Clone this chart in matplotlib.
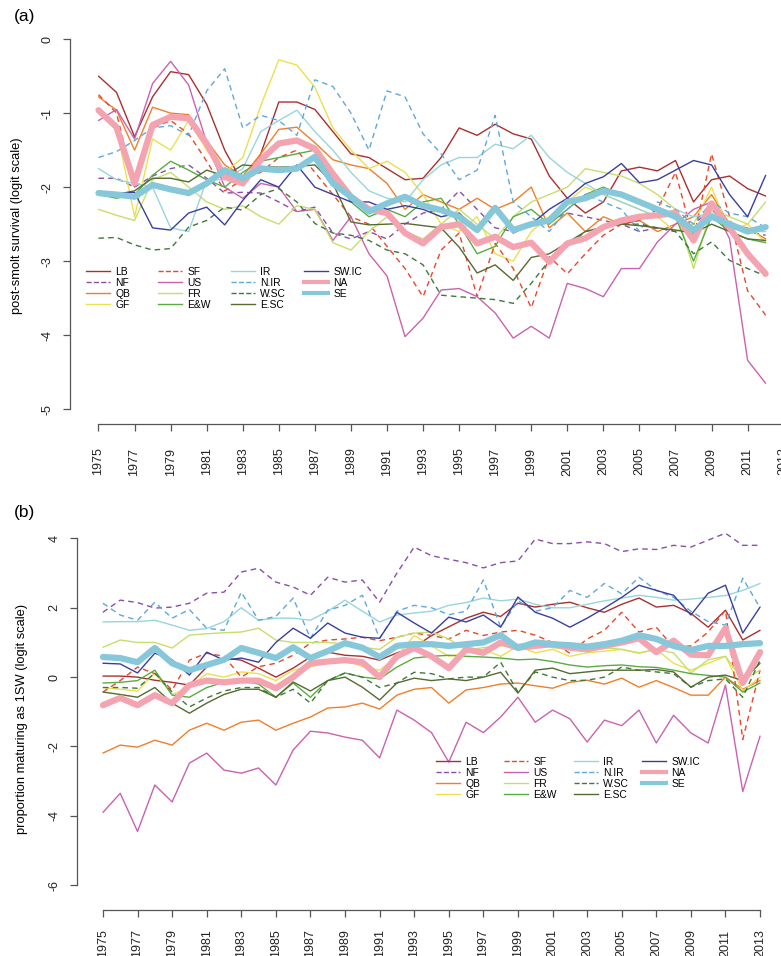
import matplotlib
matplotlib.use("Agg")
import matplotlib.pyplot as plt

plt.rcParams['font.family'] = ['Liberation Sans', 'DejaVu Sans']

W, H = 781, 956

# ---- data: panel (a) post-smolt survival, 1975-2012 ----
years_a = list(range(1975, 2013))
lb_a = [-0.5, -0.72, -1.32, -0.78, -0.44, -0.48, -0.88, -1.5, -1.95, -1.55,
        -0.85, -0.85, -0.95, -1.25, -1.55, -1.6, -1.75, -1.9, -1.88, -1.6,
        -1.2, -1.3, -1.15, -1.28, -1.35, -1.85, -2.15, -2.35, -2.2, -1.78,
        -1.73, -1.78, -1.64, -2.2, -1.9, -1.85, -2.02, -2.12]
nf_a = [-1.88, -1.88, -2.0, -1.85, -1.75, -1.7, -1.88, -2.08, -2.07, -2.08,
        -2.2, -2.33, -2.27, -2.62, -2.7, -2.6, -2.7, -2.5, -2.35, -2.3,
        -2.05, -2.3, -2.55, -2.6, -2.5, -2.45, -2.35, -2.4, -2.45, -2.5,
        -2.6, -2.55, -2.6, -2.5, -2.3, -2.55, -2.6, -2.65]
qb_a = [-0.78, -0.96, -1.5, -0.92, -1.0, -1.02, -1.37, -1.7, -1.85, -1.55,
        -1.22, -1.19, -1.4, -1.63, -1.7, -1.75, -1.95, -2.3, -2.1, -2.2,
        -2.3, -2.15, -2.3, -2.2, -2.0, -2.55, -2.35, -2.6, -2.4, -2.5,
        -2.45, -2.6, -2.5, -2.4, -2.1, -2.5, -2.55, -2.7]
gf_a = [-0.95, -1.2, -2.4, -1.35, -1.5, -1.1, -1.5, -1.8, -1.6, -0.9,
        -0.28, -0.35, -0.65, -1.2, -1.5, -1.75, -1.65, -1.8, -2.1, -2.5,
        -2.6, -2.4, -2.9, -3.0, -2.6, -2.4, -2.2, -2.0, -2.1, -2.2,
        -2.3, -2.4, -2.6, -2.5, -2.0, -2.6, -2.5, -2.75]
sf_a = [-0.75, -1.0, -2.0, -1.2, -1.1, -1.28, -1.65, -2.05, -1.9, -1.8,
        -1.6, -1.5, -1.8, -2.1, -2.4, -2.5, -2.8, -3.1, -3.48, -2.85,
        -2.62, -3.48, -2.76, -3.1, -3.63, -2.94, -3.17, -2.9, -2.65, -2.5,
        -2.45, -2.3, -1.8, -2.7, -1.55, -2.4, -3.4, -3.73]
us_a = [-1.1, -0.95, -1.35, -0.6, -0.3, -0.62, -1.4, -2.0, -2.15, -1.95,
        -2.0, -2.33, -2.3, -2.72, -2.4, -2.9, -3.2, -4.02, -3.77, -3.39,
        -3.37, -3.48, -3.7, -4.04, -3.88, -4.04, -3.3, -3.37, -3.48, -3.1,
        -3.1, -2.74, -2.5, -2.3, -2.2, -2.7, -4.34, -4.65]
fr_a = [-2.3, -2.38, -2.45, -1.9, -1.8, -2.0, -2.2, -2.3, -2.25, -2.4,
        -2.5, -2.25, -2.3, -2.75, -2.85, -2.6, -2.4, -2.6, -2.7, -2.5,
        -2.3, -2.5, -2.7, -2.4, -2.2, -2.1, -2.0, -1.75, -1.8, -1.85,
        -1.95, -2.1, -2.3, -3.1, -2.3, -2.4, -2.5, -2.2]
ew_a = [-2.1, -2.15, -2.1, -1.84, -1.65, -1.77, -1.9, -2.0, -1.8, -1.65,
        -1.6, -1.55, -1.5, -1.82, -2.2, -2.4, -2.3, -2.4, -2.2, -2.15,
        -2.5, -2.9, -2.8, -2.4, -2.3, -2.5, -2.3, -2.1, -2.0, -2.1,
        -2.2, -2.3, -2.4, -3.0, -2.4, -2.6, -2.7, -2.75]
ir_a = [-1.75, -1.9, -1.95, -2.0, -2.55, -2.6, -1.9, -1.9, -1.75, -1.25,
        -1.1, -0.96, -1.25, -1.5, -1.8, -2.05, -2.15, -2.2, -1.9, -1.7,
        -1.6, -1.6, -1.42, -1.48, -1.3, -1.6, -1.8, -1.95, -2.1, -2.2,
        -2.3, -2.4, -2.3, -2.4, -2.35, -2.5, -2.6, -2.6]
nir_a = [-1.6, -1.52, -1.37, -1.2, -1.17, -1.3, -0.7, -0.4, -1.2, -1.03,
         -1.1, -1.3, -0.55, -0.64, -1.0, -1.5, -0.7, -0.78, -1.28, -1.55,
         -1.9, -1.77, -1.03, -2.2, -2.4, -2.6, -2.3, -2.1, -2.2, -2.3,
         -2.6, -2.2, -2.3, -2.5, -2.2, -2.35, -2.4, -2.55]
wsc_a = [-2.69, -2.68, -2.78, -2.85, -2.83, -2.54, -2.45, -2.27, -2.31, -2.1,
         -2.02, -2.2, -2.49, -2.62, -2.65, -2.72, -2.85, -2.9, -3.05, -3.46,
         -3.48, -3.5, -3.52, -3.57, -3.3, -2.99, -2.8, -2.6, -2.54, -2.5,
         -2.5, -2.55, -2.6, -2.9, -2.74, -2.99, -3.1, -3.2]
esc_a = [-2.1, -2.1, -2.05, -1.88, -1.88, -1.93, -1.77, -1.85, -1.7, -1.72,
         -1.73, -1.72, -1.7, -1.95, -2.47, -2.51, -2.5, -2.49, -2.52, -2.55,
         -2.81, -3.16, -3.05, -3.26, -2.95, -2.9, -2.75, -2.6, -2.54, -2.5,
         -2.52, -2.55, -2.58, -2.62, -2.5, -2.6, -2.7, -2.72]
swic_a = [-2.08, -2.08, -2.07, -2.55, -2.58, -2.35, -2.27, -2.51, -2.18, -1.9,
          -2.0, -1.7, -2.0, -2.1, -2.2, -2.2, -2.3, -2.25, -2.3, -2.4,
          -2.35, -2.58, -2.27, -2.62, -2.5, -2.3, -2.15, -1.95, -1.86, -1.68,
          -1.94, -1.9, -1.77, -1.64, -1.7, -2.1, -2.4, -1.84]
na_a = [-0.96, -1.19, -1.95, -1.16, -1.05, -1.07, -1.41, -1.86, -1.95, -1.63,
        -1.41, -1.37, -1.48, -1.82, -2.13, -2.3, -2.35, -2.62, -2.76, -2.54,
        -2.5, -2.76, -2.67, -2.81, -2.75, -3.01, -2.76, -2.69, -2.54, -2.45,
        -2.4, -2.38, -2.35, -2.72, -2.22, -2.55, -2.9, -3.17]
se_a = [-2.08, -2.1, -2.13, -1.97, -2.03, -2.08, -1.95, -1.77, -1.88, -1.75,
        -1.77, -1.75, -1.59, -1.95, -2.13, -2.33, -2.22, -2.13, -2.25, -2.31,
        -2.4, -2.58, -2.28, -2.58, -2.5, -2.45, -2.2, -2.15, -2.05, -2.1,
        -2.2, -2.3, -2.4, -2.58, -2.4, -2.5, -2.6, -2.54]

# ---- data: panel (b) proportion maturing as 1SW, 1975-2013 ----
years_b = list(range(1975, 2014))
lb_b = [0.03, 0.03, 0.0, -0.09, -0.15, -0.23, 0.29, 0.55, 0.49, 0.26,
        0.0, 0.26, 0.58, 0.72, 0.63, 0.6, 0.49, 0.7, 0.86, 1.2,
        1.45, 1.7, 1.87, 1.75, 2.13, 2.02, 2.1, 2.16, 2.0, 1.87,
        2.1, 2.28, 2.02, 2.07, 1.84, 1.44, 1.93, 1.07, 1.35]
nf_b = [1.87, 2.22, 2.15, 1.99, 2.02, 2.13, 2.42, 2.45, 3.03, 3.14,
        2.74, 2.6, 2.36, 2.88, 2.74, 2.8, 2.16, 3.0, 3.75, 3.5,
        3.4, 3.3, 3.15, 3.3, 3.35, 3.98, 3.85, 3.85, 3.9, 3.85,
        3.62, 3.7, 3.68, 3.8, 3.75, 3.95, 4.15, 3.8, 3.8]
qb_b = [-2.19, -1.96, -2.02, -1.82, -1.96, -1.53, -1.33, -1.53, -1.3, -1.24,
        -1.53, -1.33, -1.15, -0.89, -0.86, -0.75, -0.92, -0.52, -0.35, -0.3,
        -0.75, -0.37, -0.3, -0.2, -0.17, -0.25, -0.32, -0.15, -0.09, -0.2,
        -0.03, -0.29, -0.1, -0.3, -0.52, -0.52, 0.0, -0.35, -0.1]
gf_b = [-0.3, -0.35, -0.4, 0.12, -0.5, -0.3, 0.1, 0.0, 0.15, 0.1,
        -0.1, 0.2, 0.3, 0.4, 0.5, 0.3, 0.2, 0.6, 1.2, 0.9,
        0.6, 0.7, 0.8, 0.6, 0.9, 0.7, 0.8, 0.6, 0.7, 0.75,
        0.8, 0.7, 0.8, 0.4, 0.2, 0.4, 0.6, -0.4, 0.0]
sf_b = [-0.43, -0.1, 0.29, 0.1, -0.37, 0.49, 0.69, 0.6, 0.0, 0.3,
        0.4, 0.63, 0.98, 1.07, 1.1, 1.15, 1.05, 1.15, 1.27, 1.2,
        1.1, 1.35, 1.2, 1.3, 1.35, 1.21, 1.0, 0.69, 1.1, 1.35,
        1.87, 1.3, 1.44, 0.86, 0.9, 1.3, 1.93, -1.8, 0.2]
us_b = [-3.9, -3.35, -4.45, -3.11, -3.6, -2.48, -2.19, -2.68, -2.77, -2.62,
        -3.11, -2.1, -1.56, -1.61, -1.73, -1.82, -2.33, -0.95, -1.24, -1.6,
        -2.45, -1.3, -1.6, -1.15, -0.58, -1.3, -0.95, -1.2, -1.87, -1.24,
        -1.4, -0.95, -1.9, -1.1, -1.61, -1.9, -0.23, -3.3, -1.7]
fr_b = [0.86, 1.07, 1.0, 1.0, 0.84, 1.21, 1.25, 1.28, 1.3, 1.41,
        1.07, 1.0, 1.0, 1.0, 0.95, 0.86, 0.8, 1.15, 1.27, 1.3,
        1.1, 0.78, 0.85, 0.9, 0.95, 0.98, 0.85, 0.8, 0.9, 0.85,
        0.8, 0.69, 0.8, 0.7, 0.12, 0.5, 0.6, -0.09, 0.2]
ew_b = [-0.17, -0.15, -0.1, 0.2, -0.52, -0.58, -0.3, -0.15, -0.09, -0.2,
        -0.58, -0.17, -0.58, -0.1, 0.12, 0.0, -0.05, 0.29, 0.55, 0.6,
        0.63, 0.6, 0.58, 0.55, 0.5, 0.52, 0.45, 0.35, 0.29, 0.33,
        0.35, 0.3, 0.28, 0.2, 0.1, 0.05, 0.0, -0.43, -0.17]
ir_b = [1.59, 1.6, 1.6, 1.64, 1.5, 1.35, 1.4, 1.6, 2.0, 1.64,
        1.7, 1.7, 1.64, 1.9, 2.22, 1.9, 1.59, 1.79, 1.85, 1.9,
        2.07, 2.15, 2.28, 2.2, 2.25, 2.1, 2.0, 2.0, 2.1, 2.2,
        2.28, 2.36, 2.3, 2.22, 2.25, 2.3, 2.35, 2.5, 2.7]
nir_b = [2.13, 1.79, 1.64, 2.16, 1.7, 1.95, 1.41, 1.35, 2.45, 1.64,
         1.75, 2.28, 1.12, 1.93, 2.07, 2.36, 1.12, 1.9, 2.07, 2.0,
         1.8, 1.9, 2.8, 1.44, 2.2, 1.9, 2.0, 2.5, 2.3, 2.7,
         2.4, 2.88, 2.5, 2.3, 1.9, 1.6, 1.5, 2.85, 2.0]
wsc_b = [-0.3, -0.3, -0.32, 0.12, -0.43, -0.86, -0.6, -0.4, -0.3, -0.3,
         -0.58, -0.35, -0.75, -0.1, 0.12, 0.0, -0.3, -0.17, 0.14, 0.1,
         -0.05, 0.0, 0.0, 0.43, -0.43, 0.15, 0.0, -0.1, -0.09, 0.0,
         0.29, 0.2, 0.15, 0.1, -0.29, -0.1, -0.05, -0.58, 0.49]
esc_b = [-0.43, -0.5, -0.58, -0.3, -0.75, -1.04, -0.75, -0.5, -0.35, -0.35,
         -0.58, -0.14, -0.4, -0.1, 0.0, -0.29, -0.66, -0.17, -0.03, -0.1,
         -0.05, -0.1, 0.0, 0.14, -0.46, 0.2, 0.26, 0.1, 0.15, 0.2,
         0.2, 0.2, 0.22, 0.15, -0.29, 0.0, 0.06, -0.1, 0.4]
swic_b = [0.4, 0.38, 0.12, 0.69, 0.5, 0.06, 0.72, 0.49, 0.55, 0.43,
          1.0, 1.41, 1.12, 1.56, 1.27, 1.15, 1.12, 1.87, 1.56, 1.27,
          1.73, 1.59, 1.79, 1.44, 2.31, 1.87, 1.7, 1.44, 1.7, 1.99,
          2.3, 2.65, 2.5, 2.36, 1.79, 2.42, 2.65, 1.27, 2.02]
na_b = [-0.81, -0.6, -0.81, -0.52, -0.75, -0.23, -0.1, -0.15, -0.1, -0.1,
        -0.32, 0.0, 0.4, 0.45, 0.49, 0.43, 0.0, 0.6, 0.84, 0.6,
        0.26, 0.8, 0.7, 1.0, 0.85, 0.9, 0.95, 0.85, 0.8, 0.9,
        1.0, 1.12, 0.72, 1.05, 0.65, 0.63, 1.41, -0.17, 0.72]
se_b = [0.58, 0.55, 0.43, 0.84, 0.4, 0.2, 0.35, 0.5, 0.84, 0.7,
        0.55, 0.86, 0.55, 0.75, 0.98, 0.85, 0.58, 0.9, 0.95, 0.95,
        0.9, 0.95, 1.0, 1.21, 0.84, 1.0, 0.95, 0.92, 0.88, 0.95,
        1.05, 1.21, 1.1, 0.9, 0.78, 0.9, 0.9, 0.95, 0.98]

labels = ["LB", "NF", "QB", "GF", "SF", "US", "FR", "E&W",
          "IR", "N.IR", "W.SC", "E.SC", "SW.IC", "NA", "SE"]
series_a = [lb_a, nf_a, qb_a, gf_a, sf_a, us_a, fr_a, ew_a,
            ir_a, nir_a, wsc_a, esc_a, swic_a, na_a, se_a]
series_b = [lb_b, nf_b, qb_b, gf_b, sf_b, us_b, fr_b, ew_b,
            ir_b, nir_b, wsc_b, esc_b, swic_b, na_b, se_b]

colors = ["#a8302f", "#8a4ea6", "#f07f2a", "#ece04e", "#e8472c", "#c962b0",
          "#c6df6c", "#58ad40", "#98d5dc", "#5ea8dc", "#3e793b", "#556b2f",
          "#3b3f9b", "#f4a3b1", "#86c8d9"]
dashed = {"NF", "SF", "N.IR", "W.SC"}
thick = {"NA", "SE"}
AXCOL = "#555555"


def px_axes(left, top, right, bottom):
    # pixel box -> figure fraction rect
    return [left / W, 1 - bottom / H, (right - left) / W, (bottom - top) / H]


def style_axes(ax, ybounds, yticks, xpad):
    for s in ("top", "right"):
        ax.spines[s].set_visible(False)
    for s in ("left", "bottom"):
        ax.spines[s].set_color(AXCOL)
        ax.spines[s].set_linewidth(0.9)
    ax.spines["left"].set_bounds(*ybounds)
    ax.spines["bottom"].set_bounds(1975, 2013)
    ax.set_xticks(list(range(1975, 2014, 2)))
    ax.set_xticklabels([str(y) for y in range(1975, 2014, 2)], rotation=90)
    ax.set_yticks(yticks)
    ax.set_yticklabels([str(v) for v in yticks], rotation=90, va="center")
    ax.tick_params(axis="both", direction="out", length=5, width=0.9,
                   color=AXCOL, labelsize=9, labelcolor="#222222")
    ax.tick_params(axis="x", pad=xpad)
    ax.tick_params(axis="y", pad=7)
    ax.patch.set_alpha(0)


def draw_lines(ax, years, series):
    handles = []
    for lab, vals, col in zip(labels, series, colors):
        lw = 4.5 if lab in thick else 1.0
        ls = (0, (4, 3)) if lab in dashed else "-"
        h, = ax.plot(years, vals, color=col, lw=lw, ls=ls,
                     solid_joinstyle="round", solid_capstyle="round")
        handles.append(h)
    return handles


def add_legend(fig, handles, col_x, top_y):
    # one legend per column so column pitch matches the original
    for c in range(4):
        idx = list(range(c * 4, min(c * 4 + 4, len(labels))))
        hs, ls = [], []
        for i in idx:
            h = handles[i]
            proxy = plt.Line2D([], [], color=h.get_color(),
                               lw=3.0 if labels[i] in thick else 1.0,
                               ls=h.get_linestyle())
            hs.append(proxy)
            ls.append(labels[i])
        fig.legend(hs, ls, loc="upper left",
                   bbox_to_anchor=(col_x[c] / W, 1 - top_y / H),
                   frameon=False, fontsize=7.4, handlelength=2.3,
                   handletextpad=0.55, labelspacing=0.1, borderpad=0,
                   borderaxespad=0)


fig = plt.figure(figsize=(W / 100, H / 100), dpi=100)

# panel (a)
ax_a = fig.add_axes(px_axes(70, 28, 794.5, 424))
ax_a.set_xlim(1973.42, 2013.6)
ax_a.set_ylim(-5.2, 0.15)
h_a = draw_lines(ax_a, years_a, series_a)
style_axes(ax_a, (-5, 0), [0, -1, -2, -3, -4, -5], 12)
add_legend(fig, h_a, [86, 158, 231, 304], 267)
fig.text(17 / W, 1 - 226 / H, "post-smolt survival (logit scale)",
         rotation=90, ha="center", va="center", fontsize=9.3)
fig.text(14 / W, 1 - 17 / H, "(a)", ha="left", va="center", fontsize=12.5)

# panel (b)
ax_b = fig.add_axes(px_axes(77, 528, 780.8, 910))
ax_b.set_xlim(1973.5, 2014.2)
ax_b.set_ylim(-6.715, 4.3)
h_b = draw_lines(ax_b, years_b, series_b)
style_axes(ax_b, (-6, 4), [4, 2, 0, -2, -4, -6], 9)
add_legend(fig, h_b, [436, 504, 574, 642], 757)
fig.text(22 / W, 1 - 719 / H, "proportion maturing as 1SW (logit scale)",
         rotation=90, ha="center", va="center", fontsize=9.3)
fig.text(14 / W, 1 - 513 / H, "(b)", ha="left", va="center", fontsize=12.5)

fig.savefig("out.png", dpi=100)
